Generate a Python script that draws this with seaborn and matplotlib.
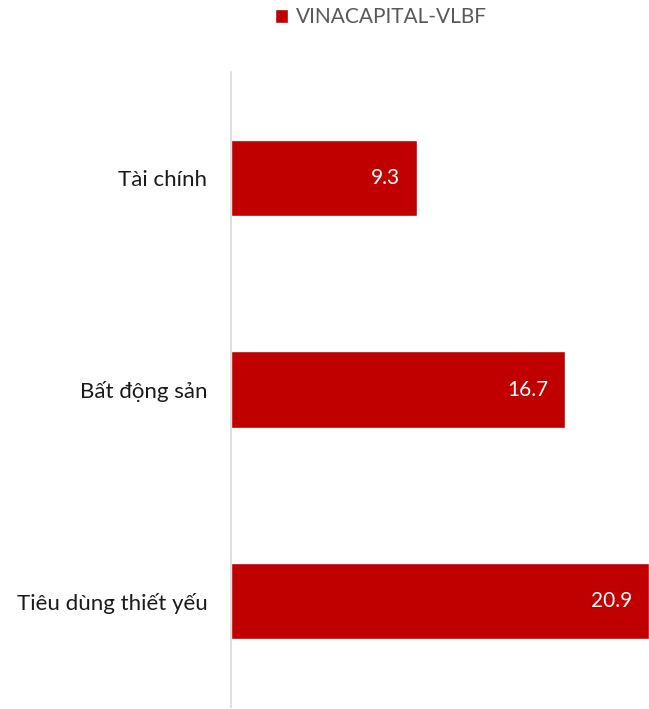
import pandas as pd
import matplotlib
matplotlib.use("Agg")
import matplotlib.pyplot as plt
import seaborn as sns

sns.set_theme(style="white")
plt.rcParams["font.family"] = ["Lato", "Open Sans", "DejaVu Sans"]

# --- dados ---
categorias = ["Tài chính", "Bất động sản", "Tiêu dùng thiết yếu"]
valores = [9.3, 16.7, 20.9]
serie = "VINACAPITAL-VLBF"

df = pd.DataFrame({"categoria": categorias, "valor": valores})

fig = plt.figure(figsize=(6.49, 7.09), dpi=100)
ax = fig.add_axes([231 / 649, 2 / 709, 1 - 231 / 649, (707 - 72) / 709])

sns.barplot(data=df, x="valor", y="categoria", color="#C00000", width=0.36,
            saturation=1, ax=ax, label=serie)

ax.set_xlim(0, 20.9)
ax.set_xlabel("")
ax.set_ylabel("")
ax.set_xticks([])
for s in ["top", "right", "bottom"]:
    ax.spines[s].set_visible(False)
ax.spines["left"].set_color("#D9D9D9")
ax.spines["left"].set_linewidth(1.2)
ax.tick_params(axis="y", length=0, pad=17, labelsize=16, labelcolor="#1a1a1a")

for i, v in enumerate(valores):
    ax.annotate(f"{v:.1f}", (v, i), xytext=(-12, 0), textcoords="offset points",
                ha="right", va="center", color="white", fontsize=15)

if ax.legend_:
    ax.legend_.remove()
handles, labels = ax.get_legend_handles_labels()
fig.legend(handles, labels, loc="center", bbox_to_anchor=(0.587, 0.976),
           frameon=False, fontsize=15, handlelength=0.65, handleheight=0.65,
           handletextpad=0.4, labelcolor="#595959")

fig.savefig("out.png", dpi=100)
plt.close(fig)
